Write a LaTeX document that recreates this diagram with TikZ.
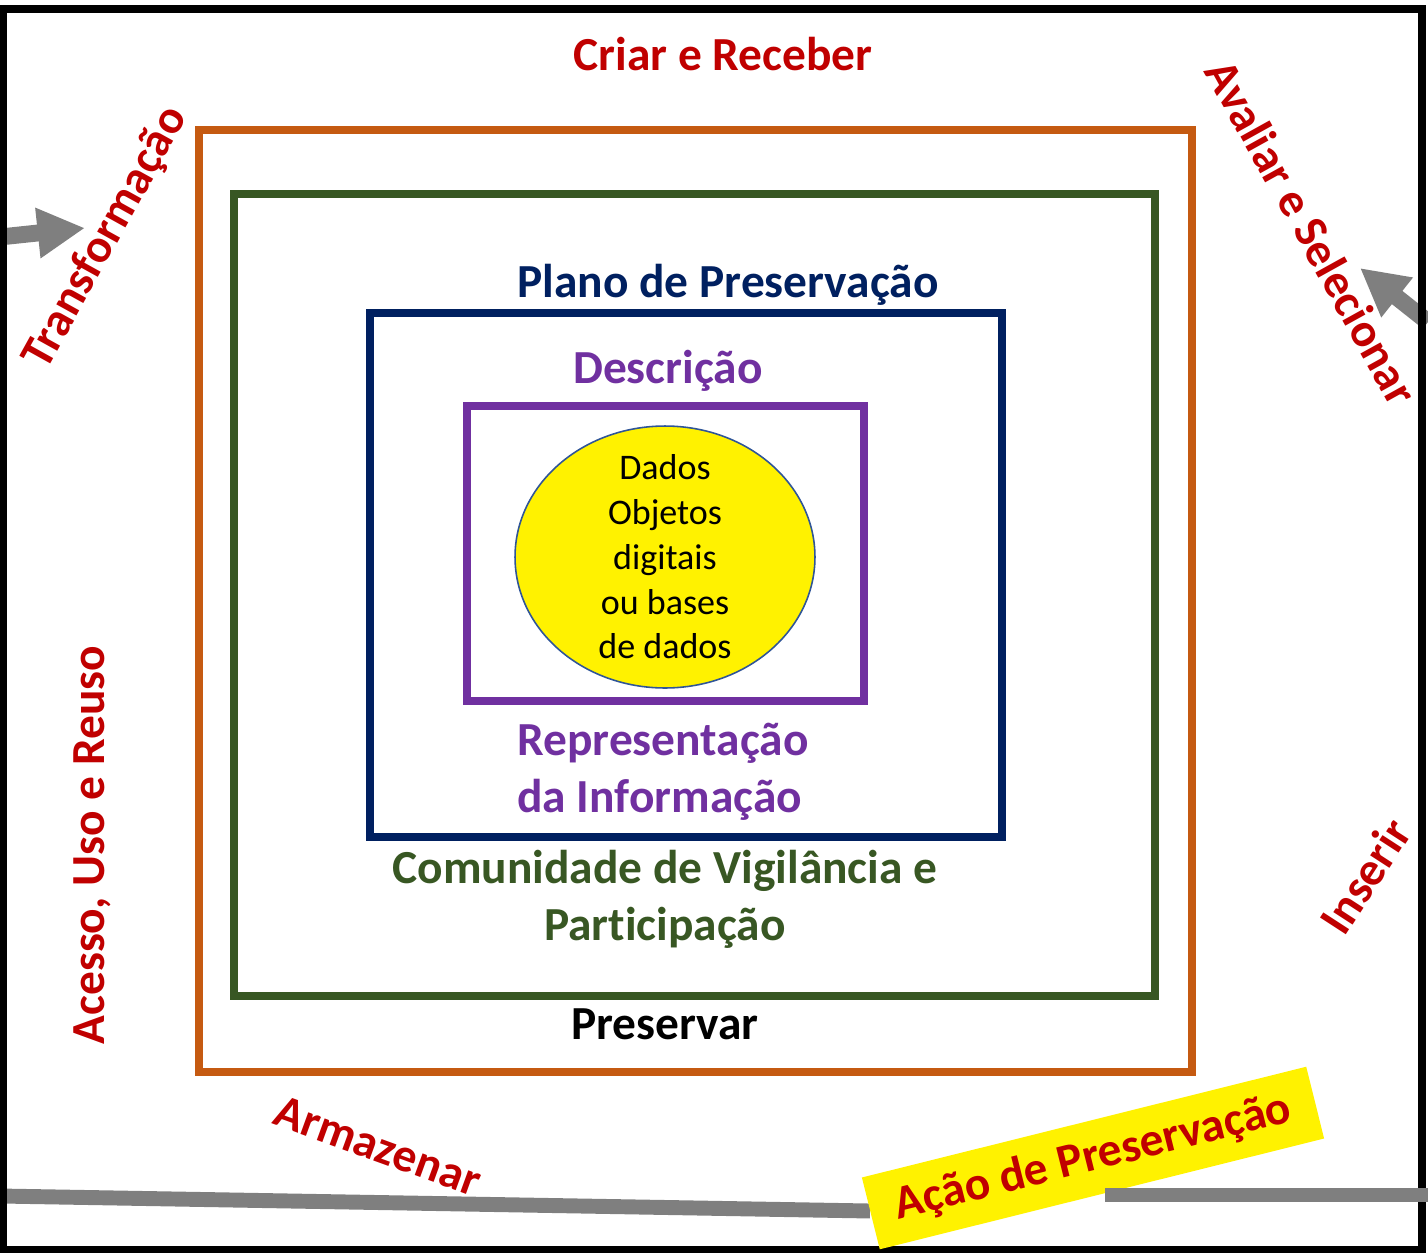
\documentclass[tikz,border=0pt]{standalone}
\usepackage{fontspec}
\setmainfont{Carlito}[Ligatures=NoCommon]
\usepackage{tikz}
\usetikzlibrary{shapes.geometric, arrows.meta}
\definecolor{lblred}{HTML}{C00000}
\definecolor{boxorange}{HTML}{C55A11}
\definecolor{boxgreen}{HTML}{385723}
\definecolor{boxnavy}{HTML}{002060}
\definecolor{boxpurple}{HTML}{7030A0}
\definecolor{coreblue}{HTML}{2F5597}
\definecolor{flowgray}{HTML}{7F7F7F}

\begin{document}
\begin{tikzpicture}[
  x=0.02cm, y=-0.02cm,
  frame/.style={line width=4pt},
  lbl/.style={font=\fontsize{27}{32.3}\selectfont\bfseries, text=lblred, inner sep=0pt},
  coretext/.style={font=\fontsize{20.5}{25.5}\selectfont, align=center, inner sep=0pt},
  flow/.style={-{Triangle[length=27pt, width=27pt]}, line width=9.6pt, color=flowgray},
  band/.style={line width=8.5pt, color=flowgray},
]
\useasboundingbox (0,0) rectangle (1428,1255);

% Gray flow arrows, under the frame
\coordinate (inL) at (0,237);
\coordinate (tipL) at (85,228);
\coordinate (inR) at (1428,322);
\coordinate (tipR) at (1360,268);
\draw[flow] (inL) -- (tipL);
\draw[flow] (inR) -- (tipR);

% Bottom band: left part runs under the action label
\coordinate (bandL) at (0,1196);
\coordinate (bandM) at (870,1211);
\draw[band] (bandL) -- (bandM);

% Outer frame and nested boxes
\draw[frame, black] (3,9) rectangle (1422,1249);
\draw[frame, boxorange] (199,130) rectangle (1192,1072);
\draw[frame, boxgreen] (234,194) rectangle (1155,996);
\draw[frame, boxnavy] (370,313) rectangle (1002,837);
\draw[frame, boxpurple] (467,406) rectangle (864,701);

% Center: data in the yellow ellipse
\node[ellipse, draw=coreblue, fill=yellow, line width=0.9pt, minimum width=6cm, minimum height=5.24cm] (core) at (665,557) {};
\node[coretext] (coretxt) at (core) {Dados\\Objetos\\digitais\\ou bases\\de dados};

% Labels of the nested boxes
\node[lbl, text=boxpurple] (descr) at (668,371) {Descrição};
\node[lbl, text=boxpurple, align=left] (repr) at (663,772) {Representação\\da Informação};
\node[lbl, text=boxnavy] (plan) at (728,285) {Plano de Preservação};
\node[lbl, text=boxgreen, align=center] (community) at (665,899) {Comunidade de Vigilância e\\Participação};
\node[lbl, text=black] (preserve) at (665,1024) {Preservar};

% Lifecycle steps round the outside
\node[lbl] (create) at (723,54) {Criar e Receber};
\node[lbl, rotate=-61] (select) at (1312,232) {Avaliar e Selecionar};
\node[lbl, rotate=57] (insert) at (1365,876) {Inserir};
\node[lbl, rotate=-20] (store) at (378,1146) {Armazenar};
\node[lbl, rotate=90] (access) at (92,845) {Acesso, Uso e Reuso};
\node[lbl, rotate=61] (transform) at (106,238) {Transformação};

% Yellow action label, right band on top of it
\node[lbl, fill=yellow, rotate=14, minimum width=9.16cm, minimum height=1.48cm] (action) at (1093,1158) {Ação de Preservação};
\coordinate (bandR0) at (1105,1195);
\coordinate (bandR) at (1428,1195);
\draw[band] (bandR0) -- (bandR);
\end{tikzpicture}
\end{document}
